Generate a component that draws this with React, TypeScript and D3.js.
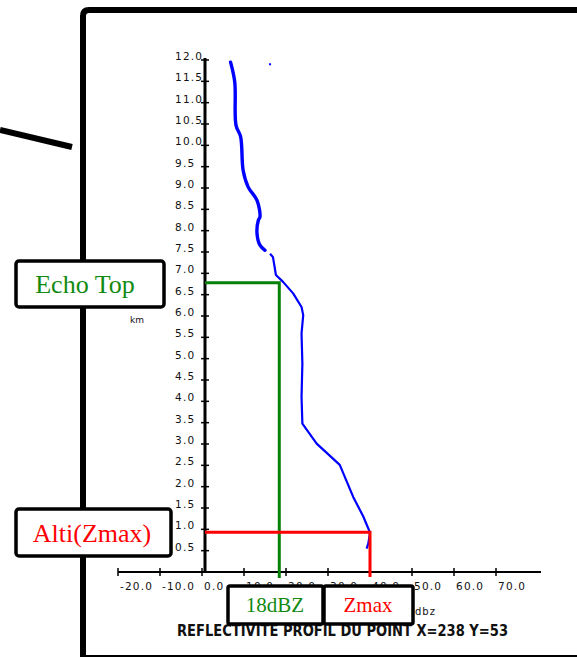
import { scaleLinear, line, range, curveCatmullRom } from 'd3';

// reflectivity profile (dBZ vs km)
const upperDbz = [6.8, 7.8, 8.1, 9.2, 9.8, 11.0, 13.1, 13.8, 13.4, 13.1, 13.8, 15.0];
const upperKm = [11.95, 11.48, 10.47, 10.2, 9.41, 9.02, 8.71, 8.32, 8.24, 7.93, 7.66, 7.54];
const lowerDbz = [16.2, 16.9, 17.6, 19.3, 21.7, 23.7, 24.1, 23.7, 23.9, 23.7, 23.9, 27.3, 32.8, 36.0, 38.4, 39.6, 40.0, 39.6, 39.2];
const lowerKm = [7.46, 7.38, 6.96, 6.8, 6.53, 6.21, 6.02, 5.59, 4.89, 4.1, 3.48, 3.01, 2.51, 1.76, 1.3, 1.02, 0.91, 0.67, 0.55];
const strayPoint = [16.2, 11.9];

const echoTop = { dbz: 18.4, km: 6.78 };
const zmax = { dbz: 40.0, km: 0.93 };

const xTicks = [-20, -10, 0, 10, 20, 30, 40, 50, 60, 70];
const yTicks = range(1, 25).map((d) => d * 0.5);

const title = 'REFLECTIVITE PROFIL DU POINT  X=238 Y=53';

const App = () => {
  const x = scaleLinear().domain([0, 10]).range([202, 244]);
  const y = scaleLinear().domain([0, 12]).range([572, 60]);

  const upper = line<[number, number]>()
    .x((d) => x(d[0]))
    .y((d) => y(d[1]))
    .curve(curveCatmullRom)(upperDbz.map((d, i) => [d, upperKm[i]]));
  const lower = line<[number, number]>()
    .x((d) => x(d[0]))
    .y((d) => y(d[1]))(lowerDbz.map((d, i) => [d, lowerKm[i]]));

  const labelFont = { fontFamily: 'DejaVu Sans', fontSize: 10.5, letterSpacing: 1.2, fill: '#111' };
  const boxFont = { fontFamily: 'Liberation Serif', fontSize: 26 };

  return (
    <svg width={577} height={657} style={{ position: 'absolute', left: 0, top: 0, background: '#fff' }}>
      {/* frame */}
      <path d='M83,657 L83,16 Q83,10 89,10 L577,10' fill='none' stroke='#000' strokeWidth={6} />
      <line x1={80} x2={577} y1={656} y2={656} stroke='#000' strokeWidth={2} />
      <line x1={0} y1={130} x2={72} y2={147} stroke='#000' strokeWidth={6} />

      {/* y axis */}
      <line x1={205} x2={205} y1={y(12) - 2} y2={y(0)} stroke='#000' strokeWidth={3} />
      {yTicks.map((t) => (
        <g key={t}>
          <line x1={201} x2={209} y1={y(t)} y2={y(t)} stroke='#000' strokeWidth={1.5} />
          <text x={175} y={y(t)} {...labelFont}>
            {t.toFixed(1)}
          </text>
        </g>
      ))}
      <text x={130} y={323} fontFamily='DejaVu Sans' fontSize={9} fill='#111'>km</text>

      {/* x axis */}
      <line x1={x(-20)} x2={541} y1={y(0)} y2={y(0)} stroke='#000' strokeWidth={2} />
      {xTicks.map((t) => (
        <g key={t}>
          <line x1={x(t)} x2={x(t)} y1={y(0) - 4} y2={y(0) + 4} stroke='#000' strokeWidth={1.5} />
          <text x={x(t) + 2} y={590} {...labelFont}>
            {t.toFixed(1)}
          </text>
        </g>
      ))}
      <text x={415} y={615} fontFamily='DejaVu Sans' fontSize={10} letterSpacing={1} fill='#111'>dbz</text>

      {/* profile */}
      <path d={upper ?? ''} fill='none' stroke='#0000ff' strokeWidth={3.4} strokeLinejoin='round' strokeLinecap='round' />
      <path d={lower ?? ''} fill='none' stroke='#0000ff' strokeWidth={2.2} strokeLinejoin='round' />
      <rect x={x(strayPoint[0]) - 1} y={y(strayPoint[1]) - 1} width={2} height={2} fill='#0000ff' />

      {/* echo top */}
      <polyline
        points={`${x(0) + 3},${y(echoTop.km)} ${x(echoTop.dbz)},${y(echoTop.km)} ${x(echoTop.dbz)},${y(0) + 6}`}
        fill='none'
        stroke='#078007'
        strokeWidth={3}
      />
      {/* zmax */}
      <polyline
        points={`${x(0) + 3},${y(zmax.km)} ${x(zmax.dbz)},${y(zmax.km)} ${x(zmax.dbz)},${y(0) + 5}`}
        fill='none'
        stroke='#ff0000'
        strokeWidth={3}
      />

      <text
        x={177}
        y={636}
        fontFamily='DejaVu Sans'
        fontWeight='bold'
        fontSize={15}
        textLength={331}
        lengthAdjust='spacingAndGlyphs'
        fill='#111'
      >
        {title}
      </text>

      {/* annotation boxes */}
      <rect x={16} y={261} width={148} height={46} rx={3} fill='#fff' stroke='#000' strokeWidth={3.5} />
      <text x={85} y={293} textAnchor='middle' fill='#118a11' {...boxFont}>Echo Top</text>

      <rect x={16} y={509} width={155} height={47} rx={3} fill='#fff' stroke='#000' strokeWidth={3.5} />
      <text x={92} y={542} textAnchor='middle' fill='#ff0000' {...boxFont}>Alti(Zmax)</text>

      <rect x={228} y={586} width={95} height={38} rx={2} fill='#fff' stroke='#000' strokeWidth={3.5} />
      <text x={275} y={612} textAnchor='middle' fill='#118a11' fontFamily='Liberation Serif' fontSize={21}>18dBZ</text>
      <rect x={324} y={586} width={89} height={38} rx={2} fill='#fff' stroke='#000' strokeWidth={3.5} />
      <text x={368} y={612} textAnchor='middle' fill='#ff0000' fontFamily='Liberation Serif' fontSize={21}>Zmax</text>
    </svg>
  );
};

export default App;
